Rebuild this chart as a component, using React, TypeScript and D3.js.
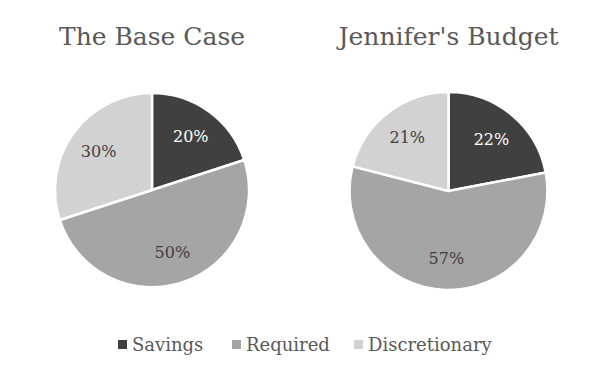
import React from "react";
import * as d3 from "d3";

const categories = ["Savings", "Required", "Discretionary"];
const titles = ["The Base Case", "Jennifer's Budget"];
const baseCase = [20, 50, 30];
const jenniferBudget = [22, 57, 21];
const colors = ["#404040", "#a5a5a5", "#d2d2d2"];
const labelColors = ["#ffffff", "#404040", "#404040"];

const W = 600;
const H = 375;
const FONT = "'DejaVu Serif', Georgia, serif";

function Pie({ values, cx, cy, r, title }: { values: number[]; cx: number; cy: number; r: number; title: string }) {
  const pie = d3.pie<number>().sort(null).value((d) => d);
  const arcs = pie(values);
  const arc = d3.arc<d3.PieArcDatum<number>>().innerRadius(0).outerRadius(r);
  const labelArc = d3.arc<d3.PieArcDatum<number>>().innerRadius(r * 0.68).outerRadius(r * 0.68);
  return (
    <g>
      <text x={cx} y={45} textAnchor="middle" fontFamily={FONT} fontSize={25} fill="#595959">
        {title}
      </text>
      <g transform={`translate(${cx},${cy})`}>
        {arcs.map((a, i) => (
          <path key={i} d={arc(a) || ""} fill={colors[i]} stroke="#ffffff" strokeWidth={2.5} strokeLinejoin="round" />
        ))}
        {arcs.map((a, i) => {
          const [x, y] = labelArc.centroid(a);
          return (
            <text key={"l" + i} x={x} y={y} dy="0.35em" textAnchor="middle" fontFamily={FONT} fontSize={16} fill={labelColors[i]}>
              {values[i]}%
            </text>
          );
        })}
      </g>
    </g>
  );
}

export default function App() {
  const legendX = [118, 232, 354];
  return (
    <svg width={W} height={H} style={{ display: "block", position: "absolute", left: 0, top: 0 }}>
      <rect width={W} height={H} fill="#ffffff" />
      <Pie values={baseCase} cx={152} cy={190} r={97} title={titles[0]} />
      <Pie values={jenniferBudget} cx={448.5} cy={191} r={99} title={titles[1]} />
      {categories.map((c, i) => (
        <g key={c}>
          <rect x={legendX[i]} y={340} width={9} height={9} fill={colors[i]} />
          <text x={legendX[i] + 14} y={351} fontFamily={FONT} fontSize={18} fill="#595959">
            {c}
          </text>
        </g>
      ))}
    </svg>
  );
}
